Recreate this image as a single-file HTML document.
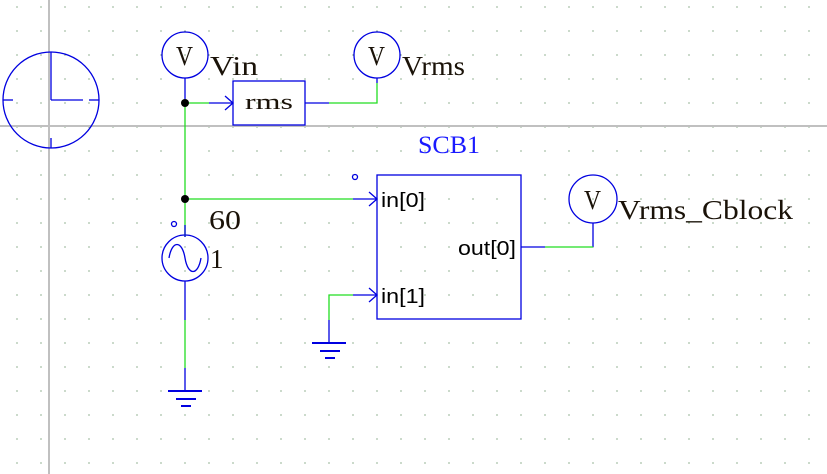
<!DOCTYPE html>
<html><head><meta charset="utf-8"><style>html,body{margin:0;padding:0;background:#fff}svg{display:block}</style></head>
<body>
<svg width="827" height="474" viewBox="0 0 827 474" xmlns="http://www.w3.org/2000/svg">
<defs>
<pattern id="g" x="16.5" y="6.5" width="24" height="24" patternUnits="userSpaceOnUse">
<rect x="0" y="0" width="1" height="1" fill="#2e6b2e"/>
</pattern>
</defs>
<rect width="827" height="474" fill="#fff"/>
<rect width="827" height="474" fill="url(#g)"/>
<line x1="0" y1="126" x2="827" y2="126" stroke="#c0c0c0" stroke-width="2"/>
<line x1="49" y1="0" x2="49" y2="474" stroke="#c0c0c0" stroke-width="2"/>
<g fill="none" stroke="#0000e0" stroke-width="1.3">
<circle cx="51" cy="100" r="48"/>
<line x1="51" y1="52" x2="51" y2="100"/><line x1="51" y1="100" x2="83" y2="100"/>
<line x1="3" y1="100" x2="13" y2="100"/><line x1="89" y1="100" x2="99" y2="100"/>
<line x1="51" y1="138" x2="51" y2="148"/>
<circle cx="185" cy="55" r="23"/>
<circle cx="377" cy="55" r="23"/>
<circle cx="593" cy="199" r="24"/>
<circle cx="185" cy="258" r="23"/>
<path d="M169 258 C172 240,182 240,185 258 S198 276,201 258"/>
<rect x="233" y="81" width="72" height="44"/>
<rect x="377" y="175" width="144" height="144"/>
<circle cx="174" cy="224" r="2.5"/>
<circle cx="355" cy="177" r="2.5"/>
<line x1="185" y1="78" x2="185" y2="103"/>
<line x1="185" y1="281" x2="185" y2="320"/>
<line x1="185" y1="368" x2="185" y2="391"/>
<line x1="209" y1="103" x2="233" y2="103"/>
<path d="M225 96 L233 103 L225 110"/>
<line x1="305" y1="103" x2="329" y2="103"/>
<line x1="377" y1="78" x2="377" y2="83"/>
<line x1="353" y1="199" x2="377" y2="199"/>
<path d="M369 192 L377 199 L369 206"/>
<line x1="353" y1="295" x2="377" y2="295"/>
<path d="M369 288 L377 295 L369 302"/>
<line x1="329" y1="320" x2="329" y2="343"/>
<line x1="521" y1="247" x2="545" y2="247"/>
<line x1="593" y1="223" x2="593" y2="247"/>
<line x1="168" y1="391" x2="202" y2="391" stroke-width="2"/>
<line x1="176" y1="399" x2="196" y2="399" stroke-width="2"/>
<line x1="181" y1="406" x2="191" y2="406" stroke-width="2"/>
<line x1="312" y1="343" x2="346" y2="343" stroke-width="2"/>
<line x1="320" y1="351" x2="340" y2="351" stroke-width="2"/>
<line x1="325" y1="358" x2="335" y2="358" stroke-width="2"/>
</g>
<g fill="none" stroke="#22dd22" stroke-width="1.3">
<line x1="185" y1="103" x2="185" y2="237"/>
<line x1="185" y1="320" x2="185" y2="368"/>
<line x1="185" y1="103" x2="209" y2="103"/>
<path d="M329 103 L377 103 L377 83"/>
<line x1="185" y1="199" x2="353" y2="199"/>
<path d="M353 295 L329 295 L329 320"/>
<path d="M545 247 L593 247"/>
</g>
<line x1="185" y1="225" x2="185" y2="237" stroke="#0000e0" stroke-width="1.3"/>
<circle cx="185" cy="103" r="4" fill="#000"/>
<circle cx="185" cy="199" r="4" fill="#000"/>
<g font-family="Liberation Serif, serif" font-size="27" fill="#1a1208">
<text x="176" y="65" textLength="17" lengthAdjust="spacingAndGlyphs">V</text>
<text x="368" y="65" textLength="17" lengthAdjust="spacingAndGlyphs">V</text>
<text x="584" y="209" textLength="17" lengthAdjust="spacingAndGlyphs">V</text>
<text x="210" y="75" textLength="48" lengthAdjust="spacingAndGlyphs">Vin</text>
<text x="402" y="75" textLength="63" lengthAdjust="spacingAndGlyphs">Vrms</text>
<text x="618" y="219" textLength="175" lengthAdjust="spacingAndGlyphs">Vrms_Cblock</text>
<text x="209" y="229" textLength="32" lengthAdjust="spacingAndGlyphs">60</text>
<text x="210" y="268">1</text>
<text x="245" y="109" font-size="22" textLength="48" lengthAdjust="spacingAndGlyphs">rms</text>
</g>
<text x="418" y="153" font-family="Liberation Serif, serif" font-size="25" fill="#1a1aff" textLength="62" lengthAdjust="spacingAndGlyphs">SCB1</text>
<g font-family="Liberation Sans, sans-serif" font-size="20" fill="#000">
<text x="381" y="207" textLength="44" lengthAdjust="spacingAndGlyphs">in[0]</text>
<text x="381" y="303" textLength="44" lengthAdjust="spacingAndGlyphs">in[1]</text>
<text x="458" y="255" textLength="58" lengthAdjust="spacingAndGlyphs">out[0]</text>
</g>
</svg>
</body></html>
